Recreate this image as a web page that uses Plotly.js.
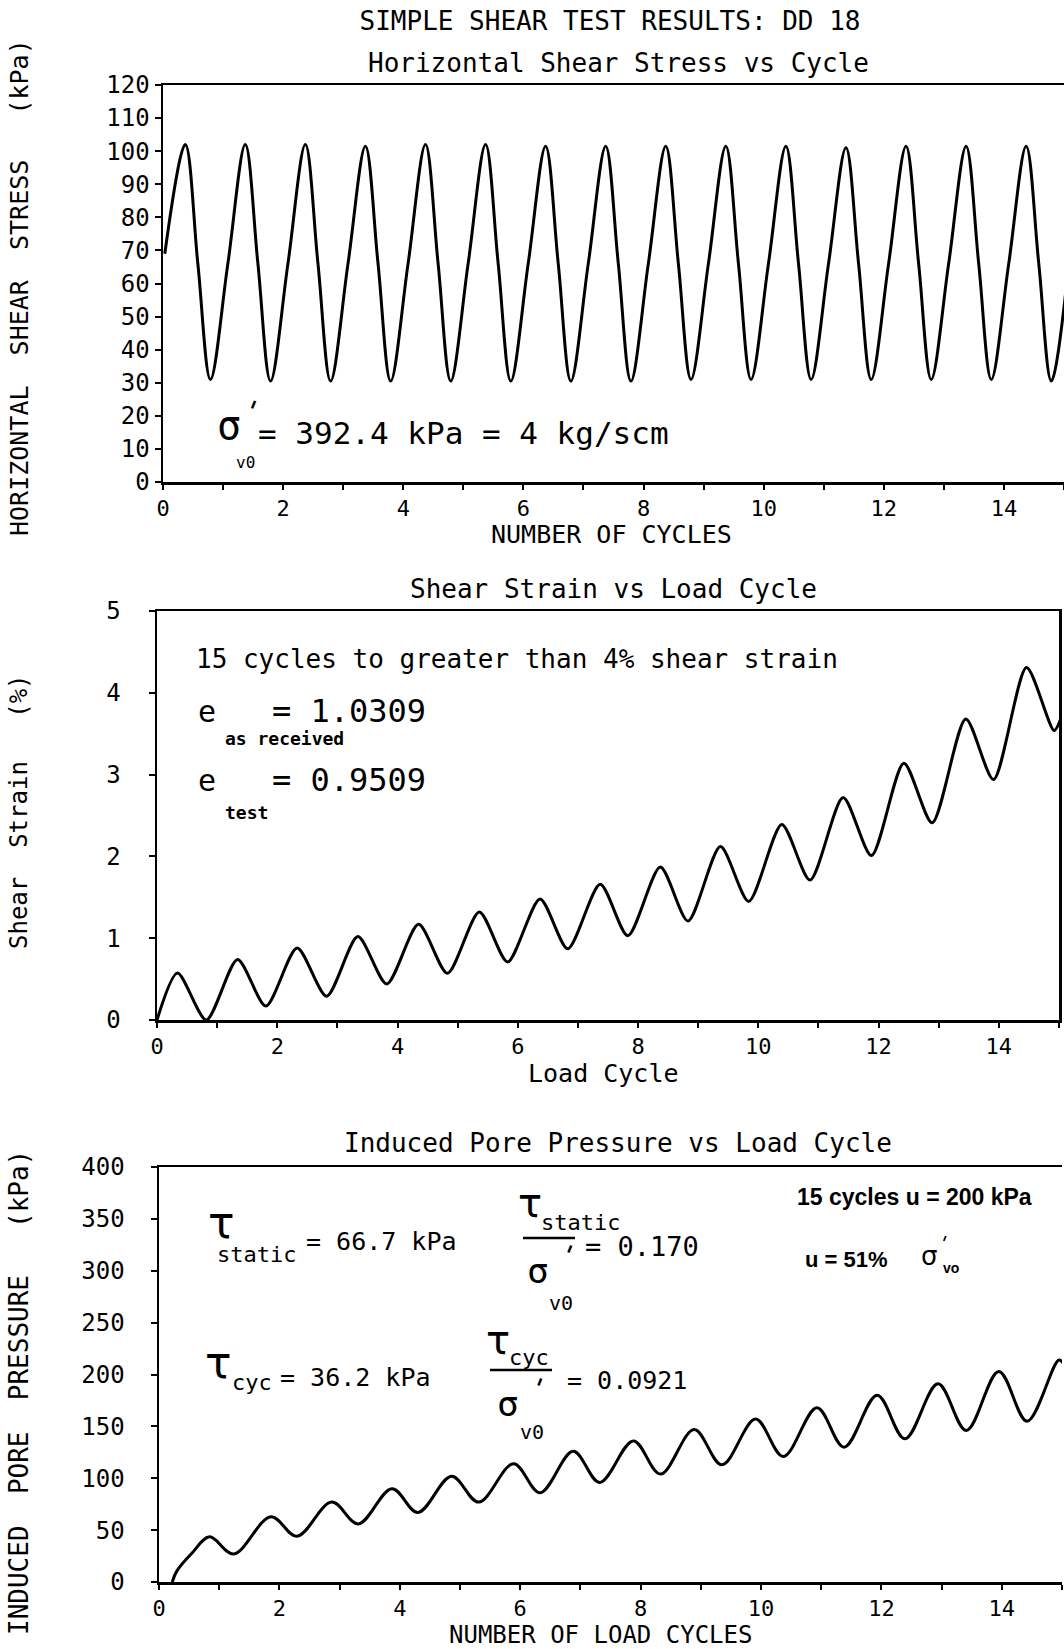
<!DOCTYPE html>
<html><head><meta charset="utf-8">
<script src="https://cdn.plot.ly/plotly-3.0.1.min.js"></script>
<style>html,body{margin:0;padding:0;background:#fff}#chart{width:1064px;height:1649px}</style>
</head><body><div id="chart"></div>
<script>
// ---------- DATA ----------
// Panel 1: horizontal shear stress (kPa) vs number of cycles
const stressCycle = [0.03,
  0.37, 0.58, 0.79, 1.08,   1.37, 1.58, 1.79, 2.08,   2.37, 2.58, 2.79, 3.08,
  3.37, 3.58, 3.79, 4.08,   4.37, 4.58, 4.79, 5.08,   5.37, 5.58, 5.79, 6.08,
  6.37, 6.58, 6.79, 7.08,   7.37, 7.58, 7.79, 8.08,   8.37, 8.58, 8.79, 9.08,
  9.37, 9.58, 9.79, 10.08,  10.37, 10.58, 10.79, 11.08, 11.37, 11.58, 11.79, 12.08,
  12.37, 12.58, 12.79, 13.08, 13.37, 13.58, 13.79, 14.08, 14.37, 14.58, 14.79, 15.08];
const stressKPa = [69,
  102, 66, 31, 66,     102, 66, 30.5, 66,   102, 66, 30.5, 66,
  101.5, 66, 30.5, 66, 102, 66, 30.5, 66,   102, 66, 30.5, 66,
  101.5, 66, 30.5, 66, 101.5, 66, 30.5, 66, 101.5, 66, 31, 66,
  101.5, 66, 31, 66,   101.5, 66, 31, 66,   101, 66, 31, 66,
  101.5, 66, 31, 66,   101.5, 66, 31, 66,   101.5, 66, 30.5, 66];

// Panel 2: shear strain (%) vs load cycle
const strainCycle = [0, 0.34, 0.82, 1.34, 1.81, 2.33, 2.82, 3.34, 3.82, 4.35, 4.83,
  5.36, 5.83, 6.37, 6.83, 7.37, 7.83, 8.37, 8.83, 9.37, 9.84, 10.39, 10.86,
  11.41, 11.88, 12.42, 12.89, 13.45, 13.91, 14.46, 14.92, 15.06];
const strainPct = [0, 0.575, 0.0, 0.74, 0.17, 0.88, 0.29, 1.02, 0.44, 1.17, 0.57,
  1.32, 0.71, 1.48, 0.87, 1.66, 1.03, 1.87, 1.21, 2.12, 1.45, 2.39, 1.71,
  2.72, 2.01, 3.14, 2.41, 3.68, 2.94, 4.31, 3.54, 3.75];

// Panel 3: induced pore pressure (kPa) vs number of load cycles
const poreCycle = [0.22, 0.30, 0.55, 0.84, 1.24, 1.86, 2.29, 2.87, 3.31, 3.87, 4.30,
  4.86, 5.31, 5.89, 6.33, 6.88, 7.32, 7.88, 8.33, 8.89, 9.35, 9.91, 10.37,
  10.93, 11.38, 11.93, 12.39, 12.94, 13.41, 13.95, 14.42, 14.95, 15.05];
const porePressureKPa = [0, 11, 28, 43.5, 27, 63, 44, 77, 56, 90, 67,
  102, 77, 114, 86, 126, 96, 136, 104, 147, 113, 157, 121,
  168, 130, 180, 138, 191, 146, 203, 155, 214, 208];

const xTickVals = [0, 2, 4, 6, 8, 10, 12, 14];
const stressTicks = [0, 10, 20, 30, 40, 50, 60, 70, 80, 90, 100, 110, 120];
const strainTicks = [0, 1, 2, 3, 4, 5];
const poreTicks = [0, 50, 100, 150, 200, 250, 300, 350, 400];

// ---------- STYLE / LAYOUT ----------
const W = 1064, H = 1649;
const MONO = "DejaVu Sans Mono, monospace";
const SANS = "Liberation Sans, Arial, sans-serif";
const GREEK = "DejaVu Sans, sans-serif";
const px = x => x / W;
const py = y => 1 - y / H;

function xAxis(domain, anchor) {
  return {
    domain: domain, anchor: anchor, range: [0, 15],
    tickmode: 'array', tickvals: xTickVals,
    ticks: 'outside', ticklen: 5, tickwidth: 2, tickcolor: '#000',
    minor: {dtick: 1, tick0: 0, ticks: 'outside', ticklen: 5, tickwidth: 2, tickcolor: '#000', showgrid: false},
    showline: true, linewidth: 2.5, linecolor: '#000', mirror: true,
    showgrid: false, zeroline: false,
    tickfont: {family: MONO, size: 22, color: '#000'}
  };
}
function yAxis(domain, anchor, range, tickvals, standoff, mirror) {
  return {
    domain: domain, anchor: anchor, range: range,
    tickmode: 'array', tickvals: tickvals,
    ticks: 'outside', ticklen: 6, tickwidth: 2, tickcolor: '#000',
    ticklabelstandoff: standoff,
    showline: true, linewidth: 2.5, linecolor: '#000', mirror: mirror,
    showgrid: false, zeroline: false,
    tickfont: {family: MONO, size: 24, color: '#000'}
  };
}

const lineStyle = {color: '#000', width: 3};
const traces = [
  {x: stressCycle, y: stressKPa, xaxis: 'x', yaxis: 'y', mode: 'lines',
   line: Object.assign({shape: 'spline', smoothing: 1}, lineStyle), hoverinfo: 'skip'},
  {x: strainCycle, y: strainPct, xaxis: 'x2', yaxis: 'y2', mode: 'lines',
   line: Object.assign({shape: 'spline', smoothing: 0.75}, lineStyle), hoverinfo: 'skip'},
  {x: poreCycle, y: porePressureKPa, xaxis: 'x3', yaxis: 'y3', mode: 'lines',
   line: Object.assign({shape: 'spline', smoothing: 1}, lineStyle), hoverinfo: 'skip'}
];

function ann(text, x, y, size, opts) {
  return Object.assign({
    text: text, x: px(x), y: py(y), xref: 'paper', yref: 'paper',
    xanchor: 'center', yanchor: 'middle', showarrow: false, borderpad: 0,
    font: {family: MONO, size: size, color: '#000'}
  }, opts || {});
}
const L = {xanchor: 'left'};
const greek = (size) => ({font: {family: GREEK, size: size, color: '#000'}});
const prime = (x, y, size) => ann("'", x, y, size, {textangle: 22, font: {family: MONO, size: size, color: '#000'}});

const annotations = [
  // subplot titles
  ann('Horizontal Shear Stress vs Cycle', 618, 63, 26),
  ann('Shear Strain vs Load Cycle', 613, 589, 26),
  ann('Induced Pore Pressure vs Load Cycle', 618, 1143, 26),
  // x axis titles
  ann('NUMBER OF CYCLES', 611, 535, 25),
  ann('Load Cycle', 603, 1073, 25),
  ann('NUMBER OF LOAD CYCLES', 600, 1635, 24),
  // y axis titles
  ann('HORIZONTAL  SHEAR  STRESS   (kPa)', 19, 288, 25, {textangle: -90}),
  ann('Shear  Strain   (%)', 19, 812, 24, {textangle: -90}),
  ann('INDUCED  PORE  PRESSURE   (kPa)', 19, 1393, 26, {textangle: -90}),

  // panel 1 note
  ann('σ', 229, 425, 40),
  prime(251, 411, 30),
  ann('v0', 245, 462, 16),
  ann('= 392.4 kPa = 4 kg/scm', 257, 433, 31, L),

  // panel 2 notes
  ann('15 cycles to greater than 4% shear strain', 195, 659, 26, L),
  ann('e', 207, 711, 30),
  ann('= 1.0309', 271, 711, 32, L),
  ann('<b>as received</b>', 224, 739, 18, L),
  ann('e', 207, 780, 30),
  ann('= 0.9509', 271, 780, 32, L),
  ann('<b>test</b>', 224, 812, 18, L),

  // panel 3 notes
  ann('τ', 221, 1222, 44, greek(44)),
  ann('static', 216, 1254, 22, L),
  ann('= 66.7 kPa', 305, 1241, 25, L),
  ann('τ', 530, 1203, 40, greek(40)),
  ann('static', 540, 1222, 22, L),
  ann('σ', 538, 1270, 36),
  prime(567, 1255, 28),
  ann('v0', 561, 1303, 20),
  ann('= 0.170', 584, 1246, 27, L),
  ann('<b>15 cycles u = 200 kPa</b>', 914, 1197, 23, {font: {family: SANS, size: 23, color: '#000'}}),
  ann('<b>u = 51%</b>', 804, 1259, 22, {xanchor: 'left', font: {family: SANS, size: 22, color: '#000'}}),
  ann('σ', 929, 1256, 26, greek(26)),
  prime(943, 1243, 20),
  ann('<b>vo</b>', 951, 1268, 14, {font: {family: SANS, size: 14, color: '#000'}}),
  ann('τ', 218, 1362, 44, greek(44)),
  ann('cyc', 231, 1382, 22, L),
  ann('= 36.2 kPa', 279, 1377, 25, L),
  ann('τ', 498, 1340, 40, greek(40)),
  ann('cyc', 508, 1357, 22, L),
  ann('σ', 508, 1403, 36),
  prime(537, 1388, 28),
  ann('v0', 532, 1432, 20),
  ann('= 0.0921', 566, 1380, 25, L)
];

const shapes = [
  {type: 'line', xref: 'paper', yref: 'paper', x0: px(523), x1: px(575), y0: py(1238), y1: py(1238), line: {color: '#000', width: 2.5}},
  {type: 'line', xref: 'paper', yref: 'paper', x0: px(490), x1: px(552), y0: py(1370), y1: py(1370), line: {color: '#000', width: 2.5}}
];

const layout = {
  width: W, height: H,
  margin: {l: 0, r: 0, t: 0, b: 0},
  paper_bgcolor: '#fff', plot_bgcolor: '#fff',
  showlegend: false,
  title: {text: 'SIMPLE SHEAR TEST RESULTS: DD 18', x: px(610), y: py(21),
          xanchor: 'center', yanchor: 'middle', font: {family: MONO, size: 26, color: '#000'}},
  xaxis: xAxis([px(163), px(1064)], 'y'),
  yaxis: yAxis([py(482), py(85)], 'x', [0, 120], stressTicks, 0, false),
  xaxis2: xAxis([px(157), px(1059)], 'y2'),
  yaxis2: yAxis([py(1020), py(611)], 'x2', [0, 5], strainTicks, 23, true),
  xaxis3: xAxis([px(159), px(1062)], 'y3'),
  yaxis3: yAxis([py(1582), py(1167)], 'x3', [0, 400], poreTicks, 21, false),
  annotations: annotations,
  shapes: shapes
};

Plotly.newPlot('chart', traces, layout, {staticPlot: true, displayModeBar: false});
</script>
</body></html>
